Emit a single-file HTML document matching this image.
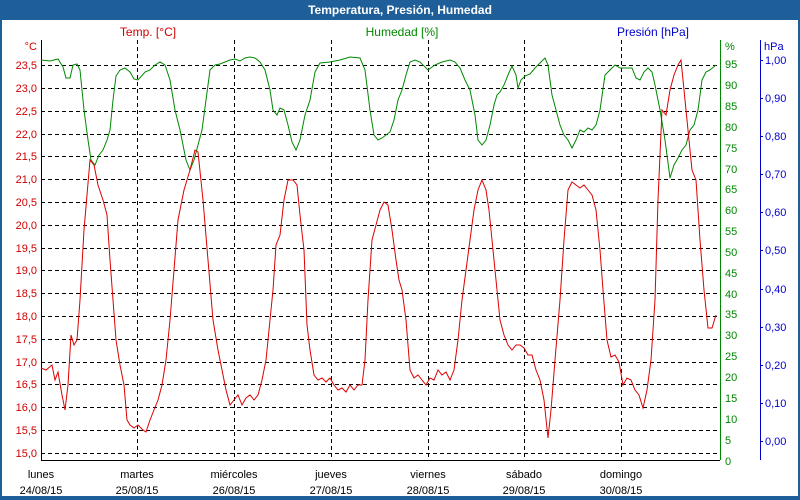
<!DOCTYPE html>
<html><head><meta charset="utf-8"><style>
html,body{margin:0;padding:0;background:#fff;}
svg{display:block;font-family:"Liberation Sans",sans-serif;}
</style></head><body>
<svg width="800" height="500" xmlns="http://www.w3.org/2000/svg">
<rect x="0" y="0" width="800" height="500" fill="#1f5f99"/>
<rect x="2" y="20" width="796" height="476" fill="#fff"/>
<text x="400" y="14" text-anchor="middle" font-size="12" font-weight="bold" fill="#fff">Temperatura, Presión, Humedad</text>
<text x="148" y="36" text-anchor="middle" font-size="12" fill="#d00000">Temp. [°C]</text>
<text x="402" y="36" text-anchor="middle" font-size="12" fill="#008800">Humedad [%]</text>
<text x="653" y="36" text-anchor="middle" font-size="12" fill="#0000cc">Presión [hPa]</text>
<g stroke="#000" stroke-dasharray="4,3" stroke-width="1">
<line x1="41" x2="720" y1="65.5" y2="65.5"/><line x1="41" x2="720" y1="88.5" y2="88.5"/><line x1="41" x2="720" y1="111.5" y2="111.5"/><line x1="41" x2="720" y1="134.5" y2="134.5"/><line x1="41" x2="720" y1="156.5" y2="156.5"/><line x1="41" x2="720" y1="179.5" y2="179.5"/><line x1="41" x2="720" y1="202.5" y2="202.5"/><line x1="41" x2="720" y1="225.5" y2="225.5"/><line x1="41" x2="720" y1="248.5" y2="248.5"/><line x1="41" x2="720" y1="270.5" y2="270.5"/><line x1="41" x2="720" y1="293.5" y2="293.5"/><line x1="41" x2="720" y1="316.5" y2="316.5"/><line x1="41" x2="720" y1="339.5" y2="339.5"/><line x1="41" x2="720" y1="362.5" y2="362.5"/><line x1="41" x2="720" y1="384.5" y2="384.5"/><line x1="41" x2="720" y1="407.5" y2="407.5"/><line x1="41" x2="720" y1="430.5" y2="430.5"/><line x1="41" x2="720" y1="453.5" y2="453.5"/>
<line x1="137.5" x2="137.5" y1="40" y2="460"/><line x1="234.5" x2="234.5" y1="40" y2="460"/><line x1="331.5" x2="331.5" y1="40" y2="460"/><line x1="428.5" x2="428.5" y1="40" y2="460"/><line x1="524.5" x2="524.5" y1="40" y2="460"/><line x1="621.5" x2="621.5" y1="40" y2="460"/>
</g>
<line x1="41.5" y1="40" x2="41.5" y2="460" stroke="#000"/>
<line x1="41" y1="460.5" x2="720" y2="460.5" stroke="#000"/>
<line x1="720.5" y1="40" x2="720.5" y2="460" stroke="#008800"/>
<line x1="760.5" y1="40" x2="760.5" y2="460" stroke="#0000cc"/>
<g font-size="11" fill="#d00000" text-anchor="end">
<text x="37" y="50">°C</text>
<text x="37" y="69">23,5</text><text x="37" y="92">23,0</text><text x="37" y="115">22,5</text><text x="37" y="138">22,0</text><text x="37" y="160">21,5</text><text x="37" y="183">21,0</text><text x="37" y="206">20,5</text><text x="37" y="229">20,0</text><text x="37" y="252">19,5</text><text x="37" y="274">19,0</text><text x="37" y="297">18,5</text><text x="37" y="320">18,0</text><text x="37" y="343">17,5</text><text x="37" y="366">17,0</text><text x="37" y="388">16,5</text><text x="37" y="411">16,0</text><text x="37" y="434">15,5</text><text x="37" y="457">15,0</text>
</g>
<g font-size="11" fill="#008800">
<text x="725" y="50">%</text>
<text x="725" y="68">95</text><text x="725" y="89">90</text><text x="725" y="110">85</text><text x="725" y="131">80</text><text x="725" y="152">75</text><text x="725" y="173">70</text><text x="725" y="193">65</text><text x="725" y="214">60</text><text x="725" y="235">55</text><text x="725" y="256">50</text><text x="725" y="277">45</text><text x="725" y="298">40</text><text x="725" y="318">35</text><text x="725" y="339">30</text><text x="725" y="360">25</text><text x="725" y="381">20</text><text x="725" y="402">15</text><text x="725" y="423">10</text><text x="725" y="444">5</text><text x="725" y="465">0</text>
</g>
<g font-size="11" fill="#0000cc">
<text x="764" y="50">hPa</text>
<text x="765" y="64">1,00</text><text x="765" y="102">0,90</text><text x="765" y="140">0,80</text><text x="765" y="178">0,70</text><text x="765" y="216">0,60</text><text x="765" y="254">0,50</text><text x="765" y="293">0,40</text><text x="765" y="331">0,30</text><text x="765" y="369">0,20</text><text x="765" y="407">0,10</text><text x="765" y="445">0,00</text>
</g>
<g stroke="#0000cc"><line x1="760" x2="763" y1="60.5" y2="60.5"/><line x1="760" x2="763" y1="98.5" y2="98.5"/><line x1="760" x2="763" y1="136.5" y2="136.5"/><line x1="760" x2="763" y1="174.5" y2="174.5"/><line x1="760" x2="763" y1="212.5" y2="212.5"/><line x1="760" x2="763" y1="250.5" y2="250.5"/><line x1="760" x2="763" y1="289.5" y2="289.5"/><line x1="760" x2="763" y1="327.5" y2="327.5"/><line x1="760" x2="763" y1="365.5" y2="365.5"/><line x1="760" x2="763" y1="403.5" y2="403.5"/><line x1="760" x2="763" y1="441.5" y2="441.5"/></g>
<g font-size="11" fill="#000" text-anchor="middle">
<text x="41" y="478">lunes</text><text x="41" y="494">24/08/15</text>
<text x="137" y="478">martes</text><text x="137" y="494">25/08/15</text>
<text x="234" y="478">miércoles</text><text x="234" y="494">26/08/15</text>
<text x="331" y="478">jueves</text><text x="331" y="494">27/08/15</text>
<text x="428" y="478">viernes</text><text x="428" y="494">28/08/15</text>
<text x="524" y="478">sábado</text><text x="524" y="494">29/08/15</text>
<text x="621" y="478">domingo</text><text x="621" y="494">30/08/15</text>
</g>
<polyline fill="none" stroke="#008800" stroke-width="1" points="41,60 50,61 58,59 63,67 66,78 70,78 73,65 77,64 80,70 84,110 88,140 91,160 95,165 99,155 103,150 107,140 110,130 113,100 116,76 120,70 125,68 130,72 134,79 138,80 145,72 150,70 155,65 160,62 165,65 170,80 175,110 180,130 186,160 190,170 194,160 198,145 202,130 206,100 210,70 215,65 220,64 225,62 230,60 235,59 240,61 245,58 250,57 255,58 260,62 265,70 270,90 273,110 277,115 280,108 284,110 288,125 292,142 296,150 300,140 305,115 310,100 315,72 320,63 330,62 340,60 350,57 360,58 365,70 370,110 374,135 378,140 382,138 386,135 390,132 394,120 398,100 402,90 406,75 410,62 415,60 420,62 428,70 435,65 442,62 450,60 455,62 460,68 465,80 470,90 475,115 478,140 482,145 486,140 490,125 494,105 497,95 500,92 504,85 508,75 512,66 516,75 518,88 521,80 525,76 530,74 535,68 540,63 545,58 548,65 552,95 556,110 560,125 564,135 568,140 572,148 576,140 580,130 584,132 588,128 592,130 596,125 600,110 605,75 610,70 615,65 620,68 628,68 632,68 636,78 640,80 644,72 648,68 652,72 655,85 660,110 665,140 670,178 674,165 678,158 682,150 686,145 690,130 694,125 698,110 702,80 706,72 710,70 716,65"/>
<polyline fill="none" stroke="#dd0000" stroke-width="1" points="41,368 46,370 52,365 55,380 58,372 62,395 65,410 68,385 71,335 74,345 77,340 80,300 84,230 90,160 94,165 98,185 103,200 107,215 110,260 113,300 116,340 120,365 124,385 127,420 130,425 134,428 138,425 143,430 146,432 150,420 154,410 158,400 162,385 166,360 170,320 174,270 178,220 184,190 190,170 195,150 198,152 203,200 208,260 213,320 218,350 222,370 226,390 230,405 234,400 238,395 242,405 246,398 250,395 254,400 258,395 262,380 266,360 270,320 273,290 276,245 280,235 284,200 288,180 293,180 297,185 300,215 304,250 307,325 310,350 314,375 318,380 322,378 326,382 330,378 334,385 338,390 342,388 346,392 350,385 354,390 358,385 362,385 365,360 368,300 372,240 376,225 380,210 384,202 388,205 392,230 396,260 399,280 402,290 406,320 410,370 414,378 418,375 422,380 426,385 430,378 434,380 438,370 442,375 446,372 450,380 454,370 458,340 462,300 466,270 470,240 474,210 478,190 482,180 486,190 489,210 492,240 496,280 500,320 504,335 508,345 512,350 516,345 520,345 524,348 528,355 532,355 536,370 540,380 544,400 548,438 551,410 555,360 560,300 564,240 568,190 572,182 576,185 580,188 584,185 588,190 592,195 596,210 600,250 603,290 607,340 611,357 615,355 619,362 623,385 627,378 631,380 635,390 639,395 643,408 647,390 651,360 655,300 658,200 662,110 666,115 670,90 674,75 678,65 681,60 684,90 688,130 692,170 696,180 700,240 704,290 708,328 712,328 716,315"/>
</svg>
</body></html>
